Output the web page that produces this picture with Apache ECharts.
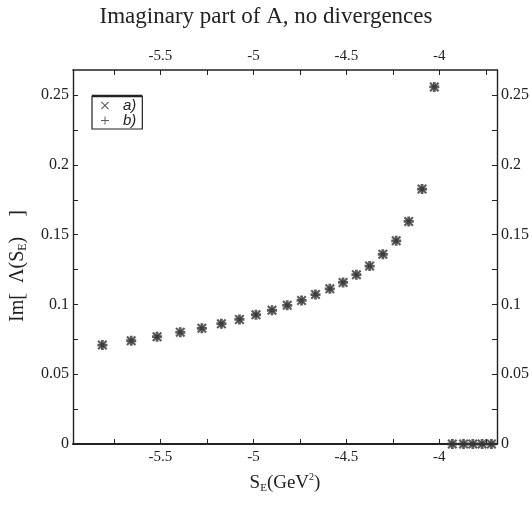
<!DOCTYPE html>
<html><head><meta charset="utf-8">
<script src="https://cdn.jsdelivr.net/npm/echarts@6/dist/echarts.min.js"></script>
<style>html,body{margin:0;padding:0;background:#fff}#c{width:532px;height:510px}</style>
</head><body><div id="c"></div>
<script>
// S_E values (GeV^2)
const sE = [-5.812, -5.657, -5.518, -5.393, -5.277, -5.172, -5.075, -4.986, -4.900, -4.818,
            -4.741, -4.666, -4.589, -4.518, -4.446, -4.375, -4.304, -4.232, -4.165, -4.093,
            -4.027, -3.93, -3.87, -3.82, -3.77, -3.72];
// series a) (x markers)
const imA = [0.0709, 0.0740, 0.0769, 0.0800, 0.0829, 0.0862, 0.0893, 0.0926, 0.0958, 0.0994,
             0.1029, 0.1071, 0.1112, 0.1158, 0.1213, 0.1275, 0.1359, 0.1456, 0.1595, 0.1827,
             0.2559, 0, 0, 0, 0, 0];
// series b) (+ markers), coincide with a)
const imB = [0.0709, 0.0740, 0.0769, 0.0800, 0.0829, 0.0862, 0.0893, 0.0926, 0.0958, 0.0994,
             0.1029, 0.1071, 0.1112, 0.1158, 0.1213, 0.1275, 0.1359, 0.1456, 0.1595, 0.1827,
             0.2559, 0, 0, 0, 0, 0];
const seriesNames = ['a)', 'b)'];
const xTickValues = [-5.75, -5.5, -5.25, -5, -4.75, -4.5, -4.25, -4, -3.75];
const xLabelValues = [-5.5, -5, -4.5, -4];
const yTickValues = [0, 0.025, 0.05, 0.075, 0.1, 0.125, 0.15, 0.175, 0.2, 0.225, 0.25];
const yLabelValues = [0, 0.05, 0.1, 0.15, 0.2, 0.25];

const crossPath = 'path://M1.5,0L5,3.5L8.5,0L10,1.5L6.5,5L10,8.5L8.5,10L5,6.5L1.5,10L0,8.5L3.5,5L0,1.5Z';
const plusPath = 'path://M3.6,0H6.4V3.6H10V6.4H6.4V10H3.6V6.4H0V3.6H3.6Z';
const crossThin = 'path://M1,0L5,4L9,0L10,1L6,5L10,9L9,10L5,6L1,10L0,9L4,5L0,1Z';
const plusThin = 'path://M4.4,0H5.6V4.4H10V5.6H5.6V10H4.4V5.6H0V4.4H4.4Z';

const serif = '"Liberation Serif", "DejaVu Serif", serif';
const ink = '#222';
const fmt = v => String(v);

const axisCommon = {
  type: 'value',
  min: -5.97, max: -3.69,
  axisLine: { onZero: false, lineStyle: { color: ink, width: 1.6 } },
  splitLine: { show: false },
  axisTick: { inside: true, length: 5, customValues: xTickValues, lineStyle: { color: ink, width: 1 } },
  axisLabel: { customValues: xLabelValues, formatter: fmt, fontFamily: serif, fontSize: 15, color: ink, margin: 6 }
};
const yCommon = {
  type: 'value',
  min: 0, max: 0.268,
  axisLine: { show: true, onZero: false, lineStyle: { color: ink, width: 1.4 } },
  splitLine: { show: false },
  axisTick: { show: true, inside: true, length: 5, customValues: yTickValues, lineStyle: { color: ink, width: 1 } },
  axisLabel: { show: true, customValues: yLabelValues, formatter: fmt, fontFamily: serif, fontSize: 16, color: ink, margin: 4 }
};

const chart = echarts.init(document.getElementById('c'));
chart.setOption({
  animation: false,
  backgroundColor: '#fff',
  title: {
    text: 'Imaginary part of A, no divergences',
    left: 'center', top: 0,
    textStyle: { fontFamily: serif, fontSize: 23, fontWeight: 'normal', color: ink }
  },
  grid: { left: 72, right: 34, top: 70, bottom: 66 },
  legend: {
    orient: 'vertical', left: 92, top: 96,
    data: [{ name: seriesNames[0], icon: crossThin }, { name: seriesNames[1], icon: plusThin }],
    itemWidth: 26, itemHeight: 8, itemGap: 0,
    padding: [2, 6, 1, 9],
    borderColor: ink, borderWidth: 1.2,
    textStyle: { fontFamily: '"Liberation Sans", Arial, sans-serif', fontStyle: 'italic', fontSize: 15, lineHeight: 15, color: ink },
    itemStyle: { color: '#333' }
  },
  graphic: [{
    type: 'line', shape: { x1: 92, y1: 96, x2: 142, y2: 96 },
    style: { stroke: ink, lineWidth: 2.4 }, z: 100
  }],
  xAxis: [
    Object.assign({}, axisCommon, {
      position: 'bottom',
      axisLine: { onZero: false, lineStyle: { color: ink, width: 2 } },
      name: '{m|S}{s|E}{m|(GeV}{p|2}{m|)}',
      nameLocation: 'middle', nameGap: 28,
      nameTextStyle: {
        rich: {
          m: { fontFamily: serif, fontSize: 19, color: ink },
          s: { fontFamily: serif, fontSize: 11, color: ink, verticalAlign: 'bottom', padding: [11, 0, 0, 0] },
          p: { fontFamily: serif, fontSize: 10, color: ink, verticalAlign: 'top', padding: [0, 0, 9, 0] }
        }
      }
    }),
    Object.assign({}, axisCommon, { position: 'top' })
  ],
  yAxis: [
    Object.assign({}, yCommon, {
      position: 'left',
      name: '{m|Im[  Λ(S}{s|E}{m|)    ]}',
      nameLocation: 'middle', nameGap: 44, nameRotate: 90,
      nameTextStyle: {
        padding: [0, 18, 0, 0],
        rich: {
          m: { fontFamily: serif, fontSize: 20, color: ink },
          s: { fontFamily: serif, fontSize: 12, color: ink, verticalAlign: 'bottom', padding: [10, 0, 0, 0] }
        }
      }
    }),
    Object.assign({}, yCommon, { position: 'right' })
  ],
  series: [
    {
      name: seriesNames[0], type: 'scatter', xAxisIndex: 0, yAxisIndex: 0,
      symbol: crossPath, symbolSize: 10,
      itemStyle: { color: '#333' },
      data: sE.map((x, i) => [x, imA[i]])
    },
    {
      name: seriesNames[1], type: 'scatter', xAxisIndex: 0, yAxisIndex: 0,
      symbol: plusPath, symbolSize: 10,
      itemStyle: { color: '#333' },
      data: sE.map((x, i) => [x, imB[i]])
    }
  ]
});
</script></body></html>
